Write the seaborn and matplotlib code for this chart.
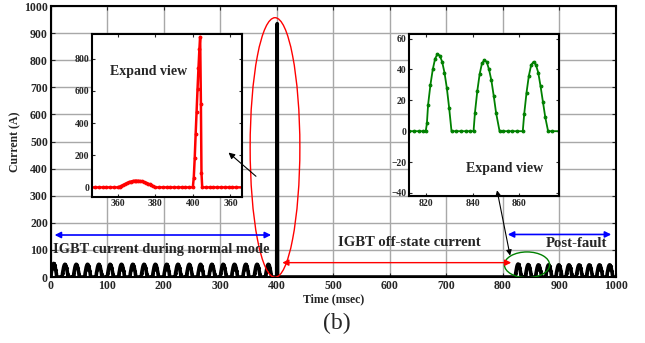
import numpy as np
import pandas as pd
import matplotlib
matplotlib.use("Agg")
import matplotlib.pyplot as plt
from matplotlib.patches import Ellipse, FancyArrowPatch
import seaborn as sns

# ---------------- data ----------------
# main trace: half-wave current pulses before and after the fault
pre_starts = [0, 20, 40, 60, 80, 100, 120, 140, 160, 180,
              200, 220, 240, 260, 280, 300, 320, 340, 360, 380]
pre_peaks = [50, 47, 47, 47, 47, 47, 47, 47, 47, 47,
             47, 47, 47, 47, 47, 47, 47, 47, 47, 47]
post_starts = [822, 840, 858, 876, 894, 912, 930, 948, 966, 984]
post_peaks = [48, 46, 45, 45, 45, 45, 45, 45, 45, 45]
# pulse profile (time offset in ms, fraction of peak) read from the expanded view
shape_dt = [0, 0.5, 1, 2, 3, 4, 5, 6, 7, 8, 9, 10, 10.5]
shape_f = [0, 0.1, 0.3, 0.56, 0.78, 0.93, 1.0, 0.98, 0.88, 0.72, 0.5, 0.26, 0]
# fault spike
fault_t = [400, 400.3, 400.6, 400.9, 401.2, 401.5]
fault_i = [0, 300, 700, 935, 400, 0]

# red expanded view (around the fault)
red_t = [346, 348, 350, 352, 354, 356, 358, 360, 361, 362, 363, 364, 365, 366, 367,
         368, 369, 370, 371, 372, 373, 374, 375, 376, 377, 378, 379, 380, 382, 384,
         386, 388, 390, 392, 394, 396, 398, 400, 400.5, 401, 401.5, 402, 402.5, 403,
         403.5, 403.9, 404.3, 404.6, 405, 407, 409, 411, 413, 415, 417, 419, 421, 423, 426]
red_i = [0, 0, 0, 0, 0, 0, 0, 0, 4, 9, 15, 21, 27, 32, 36,
         39, 41, 41, 41, 39, 37, 33, 29, 24, 18, 12, 6, 0, 0, 0,
         0, 0, 0, 0, 0, 0, 0, 0, 60, 180, 330, 470, 610, 740,
         860, 935, 520, 90, 0, 0, 0, 0, 0, 0, 0, 0, 0, 0, 0]

# green expanded view (post-fault)
green_t = [813, 815, 817, 819, 820, 820.5, 821, 822, 823, 824, 825, 826, 827, 828, 829,
           830, 831, 833, 835, 837, 839, 840.4, 841, 842, 843, 844, 845, 846, 847, 848,
           849, 850, 851.5, 853, 855, 857, 859, 861.4, 862, 863, 864, 865, 866, 867, 868,
           869, 870, 871, 872.2, 874, 877]
green_i = [0, 0, 0, 0, 0, 5, 17, 30, 40, 47, 50, 49, 45, 38, 28,
           15, 0, 0, 0, 0, 0, 0, 12, 26, 37, 44, 46, 45, 40, 33,
           23, 12, 0, 0, 0, 0, 0, 0, 11, 25, 36, 43, 45, 43, 38,
           29, 19, 9, 0, 0, 0]

x_ticks = [0, 100, 200, 300, 400, 500, 600, 700, 800, 900, 1000]
y_ticks = [0, 100, 200, 300, 400, 500, 600, 700, 800, 900, 1000]
red_xticks = [360, 380, 400, 420]
red_xticklabels = ["360", "380", "400", "360"]
red_yticks = [0, 200, 400, 600, 800]
green_xticks = [820, 840, 860]
green_yticks = [-40, -20, 0, 20, 40, 60]

# ---------------- build main series ----------------
t_all, i_all = [0.0], [0.0]
def add_pulses(starts, peaks):
    for s, p in zip(starts, peaks):
        for dt, f in zip(shape_dt, shape_f):
            t_all.append(s + dt)
            i_all.append(p * f)
add_pulses(pre_starts, pre_peaks)
t_all += fault_t
i_all += fault_i
t_all += [600.0]
i_all += [0.0]
add_pulses(post_starts, post_peaks)
t_all += [1000.0]
i_all += [0.0]
main_df = pd.DataFrame({"t": t_all, "i": i_all})
red_df = pd.DataFrame({"t": red_t, "i": red_i})
green_df = pd.DataFrame({"t": green_t, "i": green_i})

# ---------------- style ----------------
sns.set_style("ticks")
plt.rcParams["font.family"] = ["Liberation Serif", "DejaVu Serif"]
plt.rcParams["font.weight"] = "bold"
plt.rcParams["axes.labelweight"] = "bold"
plt.rcParams["xtick.direction"] = "in"
plt.rcParams["ytick.direction"] = "in"

fig = plt.figure(figsize=(6.45, 3.43), dpi=100)
ax = fig.add_axes([0.0786, 0.1924, 0.876, 0.790])

sns.lineplot(data=main_df, x="t", y="i", ax=ax, color="black", lw=2.6,
             marker=".", markersize=3, markeredgecolor="black",
             estimator=None, sort=False, zorder=3)
ax.set_xlim(0, 1000)
ax.set_ylim(0, 1000)
ax.set_xticks(x_ticks)
ax.set_yticks(y_ticks)
ax.tick_params(axis="both", labelsize=8.5, top=True, right=True, length=3, width=0.8, pad=2)
for lab in ax.get_xticklabels() + ax.get_yticklabels():
    lab.set_fontweight("bold")
ax.grid(True, color="#a8a8a8", lw=1.0)
for sp in ax.spines.values():
    sp.set_linewidth(1.5)
    sp.set_color("black")
ax.set_xlabel("Time (msec)", fontsize=8.5, fontweight="bold", labelpad=1)
ax.set_ylabel("Current (A)", fontsize=8.5, fontweight="bold", labelpad=2)

# ellipses
ax.add_patch(Ellipse((397, 478), 88, 958, fill=False, edgecolor="red", lw=1.0, zorder=4))
ax.add_patch(Ellipse((843, 45), 80, 95, fill=False, edgecolor="green", lw=1.0, zorder=4))

# arrows in the main axes
ax.annotate("", xy=(2, 155), xytext=(395, 155),
            arrowprops=dict(arrowstyle="<|-|>", color="blue", lw=1.2, mutation_scale=9), zorder=5)
ax.annotate("", xy=(804, 157), xytext=(997, 157),
            arrowprops=dict(arrowstyle="<|-|>", color="blue", lw=1.2, mutation_scale=9), zorder=5)
ax.annotate("", xy=(405, 53), xytext=(820, 53),
            arrowprops=dict(arrowstyle="<|-|>", color="red", lw=1.0, mutation_scale=9), zorder=5)

# texts
ax.text(4, 100, "IGBT current during normal mode", fontsize=10.4, fontweight="bold",
        ha="left", va="center", zorder=6)
ax.text(634, 126, "IGBT off-state current", fontsize=10.6, fontweight="bold",
        ha="center", va="center", zorder=6)
ax.text(930, 122, "Post-fault", fontsize=10.6, fontweight="bold",
        ha="center", va="center", zorder=6)
fig.text(337 / 645, 1 - 323 / 343, "(b)", fontsize=17, fontweight="normal",
         ha="center", va="center")

# ---------------- inset 1 (red) ----------------
ax1 = fig.add_axes([0.1431, 0.4265, 0.2316, 0.4743])
ax1.set_facecolor("white")
sns.lineplot(data=red_df, x="t", y="i", ax=ax1, color="red", lw=1.8,
             marker=".", markersize=4, markeredgecolor="red", estimator=None, sort=False)
ax1.set_xlim(346.5, 426)
ax1.set_ylim(-58, 953)
ax1.set_xticks(red_xticks)
ax1.set_xticklabels(red_xticklabels)
ax1.set_yticks(red_yticks)
ax1.tick_params(axis="both", labelsize=7, top=True, right=True, length=2.5, width=0.8, pad=2)
for lab in ax1.get_xticklabels() + ax1.get_yticklabels():
    lab.set_fontweight("bold")
ax1.set_xlabel("")
ax1.set_ylabel("")
for sp in ax1.spines.values():
    sp.set_linewidth(1.5)
    sp.set_color("black")
ax1.text(0.376, 0.768, "Expand view", transform=ax1.transAxes, fontsize=10,
         fontweight="bold", ha="center", va="center")

# ---------------- inset 2 (green) ----------------
ax2 = fig.add_axes([0.6346, 0.4286, 0.2326, 0.4723])
ax2.set_facecolor("white")
sns.lineplot(data=green_df, x="t", y="i", ax=ax2, color="green", lw=1.3,
             marker=".", markersize=4, markeredgecolor="green", estimator=None, sort=False)
ax2.set_xlim(813, 877)
ax2.set_ylim(-42, 63)
ax2.set_xticks(green_xticks)
ax2.set_yticks(green_yticks)
ax2.tick_params(axis="both", labelsize=7, top=True, right=True, length=2.5, width=0.8, pad=2)
for lab in ax2.get_xticklabels() + ax2.get_yticklabels():
    lab.set_fontweight("bold")
ax2.set_xlabel("")
ax2.set_ylabel("")
for sp in ax2.spines.values():
    sp.set_linewidth(1.5)
    sp.set_color("black")
ax2.text(0.636, 0.171, "Expand view", transform=ax2.transAxes, fontsize=10,
         fontweight="bold", ha="center", va="center")

# black pointer arrows drawn over the insets (main-axes data coordinates)
arr1 = FancyArrowPatch((367, 365), (311, 466), transform=ax.transData,
                       arrowstyle="-|>", color="black", lw=0.8, mutation_scale=9, zorder=10)
arr2 = FancyArrowPatch((814, 69), (789, 330), transform=ax.transData,
                       arrowstyle="<|-|>", color="black", lw=0.8, mutation_scale=8, zorder=10)
fig.add_artist(arr1)
fig.add_artist(arr2)

fig.savefig("out.png", dpi=100)
